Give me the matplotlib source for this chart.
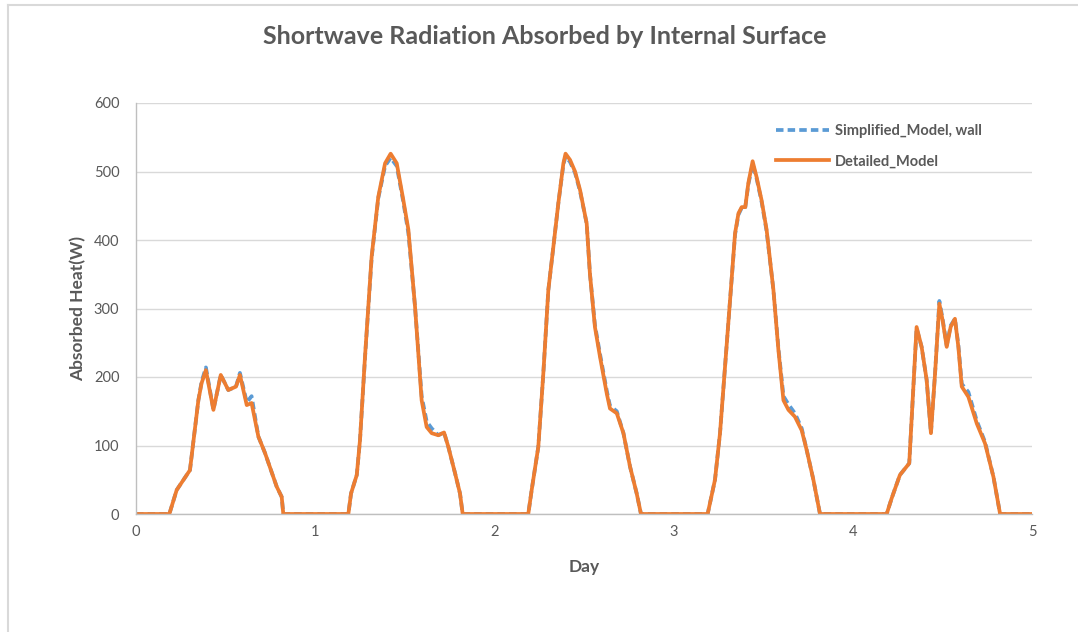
import numpy as np
import matplotlib
matplotlib.use("Agg")
import matplotlib.pyplot as plt
from matplotlib.lines import Line2D

plt.rcParams['font.family'] = ['Lato', 'DejaVu Sans']

# time in days (W)
day = [0.0, 0.186, 0.227, 0.301, 0.348, 0.366, 0.39, 0.432, 0.473, 0.515, 0.558, 0.58,
       0.618, 0.645, 0.683, 0.72, 0.785, 0.813, 0.822,
       1.185, 1.20, 1.232, 1.25, 1.278, 1.315, 1.352, 1.39, 1.421, 1.455, 1.492, 1.52,
       1.557, 1.594, 1.622, 1.65, 1.687, 1.719, 1.743, 1.78, 1.808, 1.823,
       2.189, 2.208, 2.245, 2.273, 2.301, 2.329, 2.357, 2.385, 2.397, 2.422, 2.45, 2.478,
       2.515, 2.533, 2.561, 2.589, 2.627, 2.645, 2.683, 2.72, 2.757, 2.794, 2.818,
       3.19, 3.231, 3.259, 3.287, 3.315, 3.343, 3.362, 3.38, 3.40, 3.417, 3.441, 3.463,
       3.491, 3.519, 3.557, 3.585, 3.613, 3.641, 3.677, 3.715, 3.743, 3.78, 3.817,
       4.189, 4.217, 4.263, 4.315, 4.356, 4.384, 4.412, 4.436, 4.459, 4.483, 4.501, 4.524,
       4.546, 4.57, 4.589, 4.608, 4.645, 4.692, 4.738, 4.785, 4.822, 5.0]

detailed = [0, 0, 35, 64, 166, 191, 210, 152, 203, 181, 186, 203,
            159, 162, 113, 89, 40, 25, 0,
            0, 30, 57, 108, 230, 376, 463, 512, 526, 512, 458, 415,
            303, 166, 127, 118, 115, 119, 98, 60, 30, 0,
            0, 35, 98, 205, 327, 390, 454, 512, 526, 517, 500, 473,
            424, 351, 273, 230, 176, 154, 147, 118, 69, 30, 0,
            0, 50, 118, 215, 312, 410, 439, 448, 448, 483, 515, 492,
            458, 415, 327, 239, 166, 152, 142, 122, 93, 50, 0,
            0, 23, 57, 74, 273, 244, 196, 118, 205, 307, 283, 244,
            273, 285, 244, 186, 171, 132, 103, 54, 0, 0]

simplified = [0, 0, 35, 64, 166, 193, 214, 152, 203, 181, 186, 206,
              163, 172, 113, 89, 40, 25, 0,
              0, 30, 57, 108, 228, 374, 461, 508, 520, 508, 455, 410,
              303, 172, 135, 125, 115, 119, 98, 60, 30, 0,
              0, 35, 98, 205, 327, 390, 454, 510, 522, 514, 498, 471,
              424, 351, 276, 234, 180, 158, 150, 118, 69, 30, 0,
              0, 50, 118, 215, 312, 408, 437, 447, 448, 481, 511, 490,
              456, 413, 327, 242, 172, 160, 147, 125, 93, 50, 0,
              0, 23, 57, 74, 271, 244, 196, 118, 205, 311, 285, 246,
              275, 285, 247, 190, 178, 136, 105, 54, 0, 0]

grey = '#595959'

fig = plt.figure(figsize=(10.78, 6.32), dpi=100)
ax = fig.add_axes([136 / 1078, 1 - 514 / 632, 896 / 1078, 411 / 632])

ax.plot(day, simplified, color='#5B9BD5', lw=2.7, ls=(0, (2.0, 1.1)),
        label='Simplified_Model, wall')
ax.plot(day, detailed, color='#ED7D31', lw=2.7, label='Detailed_Model')

ax.set_xlim(0, 5)
ax.set_ylim(0, 600)
ax.set_xticks(range(0, 6))
ax.set_yticks(range(0, 601, 100))
ax.grid(axis='y', color='#d9d9d9', lw=1)
ax.set_axisbelow(True)
for s in ['top', 'right']:
    ax.spines[s].set_visible(False)
for s in ['left', 'bottom']:
    ax.spines[s].set_color('#bfbfbf')
    ax.spines[s].set_linewidth(1)
ax.tick_params(length=0, labelsize=10.5, labelcolor=grey, pad=8)
ax.tick_params(axis='y', pad=12)

ax.set_xlabel('Day', fontsize=12.5, fontweight='bold', color=grey, labelpad=14)
ax.set_ylabel('Absorbed Heat(W)', fontsize=12.5, fontweight='bold', color=grey, labelpad=5)
fig.text(545 / 1078, 1 - 37 / 632, 'Shortwave Radiation Absorbed by Internal Surface',
         ha='center', va='center', fontsize=18, fontweight='bold', color=grey)

leg = ax.legend(loc='upper left', bbox_to_anchor=(0.70, 0.98), frameon=False,
                fontsize=10.5, handlelength=3.6, labelspacing=1.1, handletextpad=0.4)
for t in leg.get_texts():
    t.set_color(grey)
    t.set_fontweight('bold')

# chart area border (left and top visible)
fig.add_artist(Line2D([8 / 1078, 8 / 1078], [0, 1 - 5 / 632], transform=fig.transFigure,
                      color='#d9d9d9', lw=1.5))
fig.add_artist(Line2D([8 / 1078, 1], [1 - 5 / 632, 1 - 5 / 632], transform=fig.transFigure,
                      color='#d9d9d9', lw=1.5))

fig.savefig('out.png', dpi=100)
